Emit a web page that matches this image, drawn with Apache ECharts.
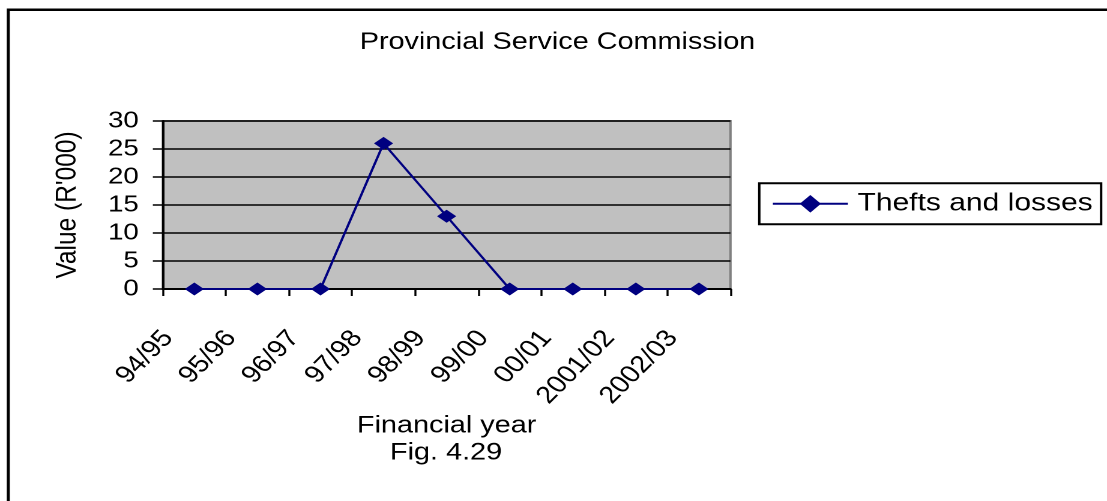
<!DOCTYPE html>
<html>
<head>
<meta charset="utf-8">
<script src="https://cdn.jsdelivr.net/npm/echarts@6/dist/echarts.min.js"></script>
<style>
  html, body { margin: 0; padding: 0; background: #ffffff; overflow: hidden; }
  /* The chart is laid out in a narrower box and widened, giving the broad lettering and flattened diamonds */
  #chart { width: 922px; height: 501px; transform: scaleX(1.2006); transform-origin: 0 0; }
</style>
</head>
<body>
<div id="chart"></div>
<script>
// Financial years on the category axis
const years = ['94/95', '95/96', '96/97', '97/98', '98/99', '99/00', '00/01', '2001/02', '2002/03'];
// Thefts and losses, R'000
const theftsAndLosses = [0, 0, 0, 26, 13, 0, 0, 0, 0];
// Value axis range and step
const valueMin = 0;
const valueMax = 30;
const valueStep = 5;

const FONT = "'Liberation Sans', Arial, sans-serif";

const chart = echarts.init(document.getElementById('chart'), null, { renderer: 'canvas', devicePixelRatio: 2 });

chart.setOption({
  animation: false,
  backgroundColor: '#ffffff',
  textStyle: { fontFamily: FONT, color: '#000000' },
  graphic: [
    {
      type: 'rect',
      z: 0,
      silent: true,
      shape: { x: 6.9, y: 9.7, width: 2000, height: 2000 },
      style: { fill: 'none', stroke: '#000000', lineWidth: 2.5 }
    },
    {
      type: 'text',
      x: 464.3, y: 42.5,
      silent: true,
      style: {
        text: 'Provincial Service Commission',
        font: '24px ' + FONT,
        fill: '#000000',
        align: 'center',
        verticalAlign: 'middle'
      }
    },
    {
      type: 'text',
      x: 371.5, y: 453,
      silent: true,
      style: {
        text: 'Fig. 4.29',
        font: '24px ' + FONT,
        fill: '#000000',
        align: 'center',
        verticalAlign: 'middle'
      }
    }
  ],
  grid: {
    left: 135.6,
    top: 121,
    width: 472.8,
    height: 168,
    show: true,
    backgroundColor: '#c0c0c0',
    borderColor: '#808080',
    borderWidth: 2
  },
  legend: {
    left: 632.4,
    top: 183.3,
    orient: 'horizontal',
    padding: [8, 7, 8, 10.3],
    backgroundColor: '#ffffff',
    borderColor: '#000000',
    borderWidth: 2,
    itemWidth: 62.5,
    itemHeight: 22,
    textStyle: { fontFamily: FONT, fontSize: 25, color: '#000000', padding: [0, 0, 0, 3] },
    data: ['Thefts and losses']
  },
  xAxis: {
    type: 'category',
    data: years,
    boundaryGap: true,
    name: 'Financial year',
    nameLocation: 'middle',
    nameGap: 125,
    nameTextStyle: { fontFamily: FONT, fontSize: 24, color: '#000000' },
    axisLine: { show: true, lineStyle: { color: '#000000', width: 2 } },
    axisTick: { show: true, interval: 0, alignWithLabel: false, length: 7, lineStyle: { color: '#000000', width: 1.7 } },
    axisLabel: {
      interval: 0,
      rotate: 50,
      margin: 19,
      padding: [0, 34, 0, 0],
      fontFamily: FONT,
      fontSize: 24,
      color: '#000000'
    },
    splitLine: { show: false }
  },
  yAxis: {
    type: 'value',
    min: valueMin,
    max: valueMax,
    interval: valueStep,
    name: "Value (R'000)",
    nameLocation: 'middle',
    nameRotate: 90,
    nameGap: 67,
    nameTextStyle: { fontFamily: FONT, fontSize: 24.5, color: '#000000' },
    axisLine: { show: true, lineStyle: { color: '#000000', width: 2 } },
    axisTick: { show: true, length: 8.3, lineStyle: { color: '#000000', width: 1.5 } },
    axisLabel: { margin: 20, fontFamily: FONT, fontSize: 23, color: '#000000' },
    splitLine: { show: true, lineStyle: { color: '#000000', width: 1.5 } }
  },
  series: [
    {
      name: 'Thefts and losses',
      type: 'line',
      data: theftsAndLosses,
      symbol: 'diamond',
      symbolSize: [16, 13],
      showSymbol: true,
      lineStyle: { color: '#000080', width: 2 },
      itemStyle: { color: '#000080' },
      emphasis: { disabled: true }
    }
  ]
});
</script>
</body>
</html>
